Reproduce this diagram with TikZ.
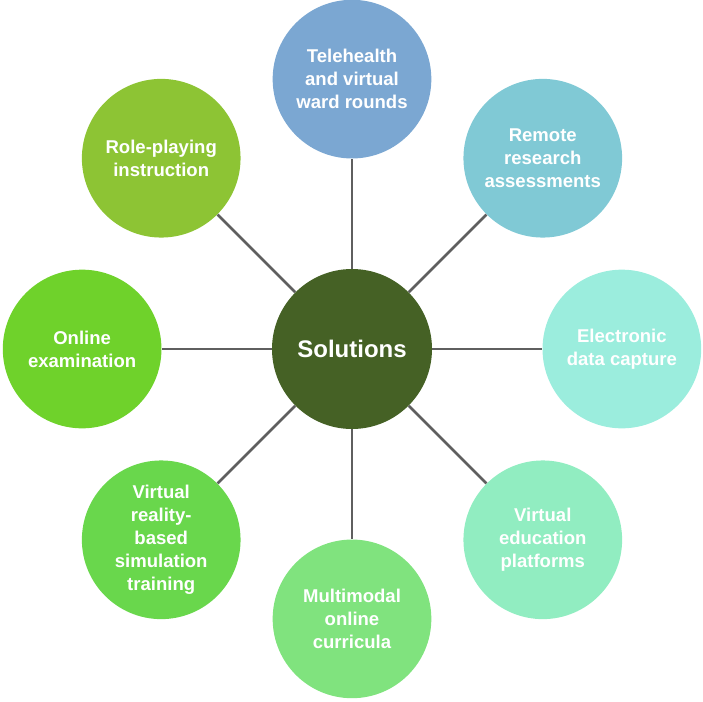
\documentclass[tikz,border=0pt]{standalone}
\usepackage{fontspec}
\setmainfont{Liberation Sans}
\definecolor{solgreen}{HTML}{456125}
\definecolor{teleblau}{HTML}{7BA7D2}
\definecolor{remoteblau}{HTML}{80C9D5}
\definecolor{edcaqua}{HTML}{9BEDDD}
\definecolor{vedumint}{HTML}{91EDC1}
\definecolor{multigreen}{HTML}{80E37E}
\definecolor{vrgreen}{HTML}{69D74C}
\definecolor{examgreen}{HTML}{6FD22B}
\definecolor{rolegreen}{HTML}{8DC434}
\definecolor{linkgray}{HTML}{5F5F5F}
\usetikzlibrary{positioning}

\begin{document}
\begin{tikzpicture}[
    node distance=82.5pt,
    hub/.style={circle, fill=solgreen, minimum size=120pt, inner sep=0pt,
                text=white, font=\fontsize{18}{22}\selectfont\bfseries},
    sat/.style={circle, minimum size=119pt, inner sep=0pt,
                text=white, align=center,
                font=\fontsize{13.9}{17.25}\selectfont\bfseries},
    link/.style={linkgray, line width=1.9pt}
  ]
  \useasboundingbox (-264pt,-264pt) rectangle (263.25pt,261.75pt);

  \node[hub] (sol) {Solutions};

  \node[sat, fill=teleblau, above=of sol] (tele) {Telehealth\\and virtual\\ward rounds};
  \node[sat, fill=remoteblau, above right=58.3pt and 58.3pt of sol] (remote) {Remote\\research\\assessments};
  \node[sat, fill=edcaqua, right=of sol] (edc) {Electronic\\data capture};
  \node[sat, fill=vedumint, below right=58.3pt and 58.3pt of sol] (vedu) {Virtual\\education\\platforms};
  \node[sat, fill=multigreen, below=of sol] (multi) {Multimodal\\online\\curricula};
  \node[sat, fill=vrgreen, below left=58.3pt and 58.3pt of sol] (vr) {Virtual\\reality-\\based\\simulation\\training};
  \node[sat, fill=examgreen, left=of sol] (exam) {Online\\examination};
  \node[sat, fill=rolegreen, above left=58.3pt and 58.3pt of sol] (role) {Role-playing\\instruction};

  % spokes
  \foreach \s in {tele, remote, edc, vedu, multi, vr, exam, role}
    \draw[link] (sol) -- (\s);
\end{tikzpicture}
\end{document}
